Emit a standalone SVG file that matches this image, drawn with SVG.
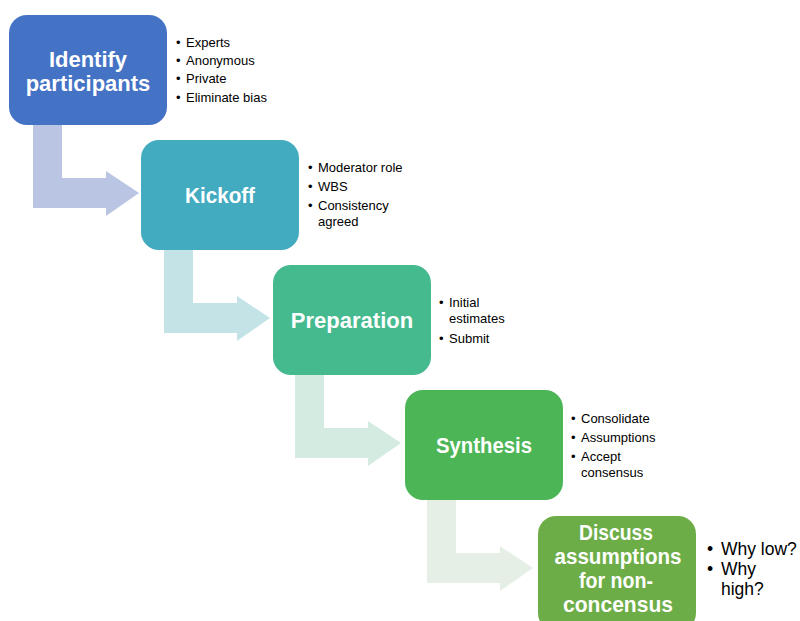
<svg xmlns="http://www.w3.org/2000/svg" width="800" height="621" viewBox="0 0 800 621">
<style>
.title{font-family:"Liberation Sans",Arial,sans-serif;font-weight:bold;font-size:22px;fill:#ffffff;text-anchor:middle}
.b{font-family:"Liberation Sans",Arial,sans-serif;font-size:13px;fill:#000000}
.bl{font-family:"Liberation Sans",Arial,sans-serif;font-size:17.5px;fill:#000000}
</style>
<rect width="800" height="621" fill="#ffffff"/>
<g id="connectors">
<path d="M33,125 H62 V178 H106 V171 L139,193 L106,216 V208 H33 Z" fill="#BAC4E3"/>
<path d="M164,250 H193 V303 H237 V296 L270,318 L237,341 V333 H164 Z" fill="#C4E3E6"/>
<path d="M295,375 H324 V428 H368 V421 L401,443 L368,466 V458 H295 Z" fill="#D4EBE1"/>
<path d="M427,500 H456 V553 H500 V546 L533,568 L500,591 V583 H427 Z" fill="#E6EFE6"/>
</g>
<g id="node1">
<rect x="9" y="15" width="158" height="110" rx="18" fill="#4472C4"/>
<text class="title" x="88" y="67">Identify</text>
<text class="title" x="88" y="91">participants</text>
<text class="b" x="176" y="47">•</text><text class="b" x="186" y="47">Experts</text>
<text class="b" x="176" y="65">•</text><text class="b" x="186" y="65">Anonymous</text>
<text class="b" x="176" y="83">•</text><text class="b" x="186" y="83">Private</text>
<text class="b" x="176" y="102">•</text><text class="b" x="186" y="102">Eliminate bias</text>
</g>
<g id="node2">
<rect x="141" y="140" width="158" height="110" rx="18" fill="#43ABBF"/>
<text class="title" x="220" y="203" textLength="70" lengthAdjust="spacingAndGlyphs">Kickoff</text>
<text class="b" x="308" y="172">•</text><text class="b" x="318" y="172">Moderator role</text>
<text class="b" x="308" y="191">•</text><text class="b" x="318" y="191">WBS</text>
<text class="b" x="308" y="210">•</text><text class="b" x="318" y="210">Consistency</text>
<text class="b" x="318" y="226">agreed</text>
</g>
<g id="node3">
<rect x="273" y="265" width="158" height="110" rx="18" fill="#44BA8E"/>
<text class="title" x="352" y="328">Preparation</text>
<text class="b" x="439" y="307">•</text><text class="b" x="449" y="307">Initial</text>
<text class="b" x="449" y="323">estimates</text>
<text class="b" x="439" y="343">•</text><text class="b" x="449" y="343">Submit</text>
</g>
<g id="node4">
<rect x="405" y="390" width="158" height="110" rx="18" fill="#4CB556"/>
<text class="title" x="484" y="453" textLength="96" lengthAdjust="spacingAndGlyphs">Synthesis</text>
<text class="b" x="571" y="423">•</text><text class="b" x="581" y="423">Consolidate</text>
<text class="b" x="571" y="442">•</text><text class="b" x="581" y="442">Assumptions</text>
<text class="b" x="571" y="461">•</text><text class="b" x="581" y="461">Accept</text>
<text class="b" x="581" y="477">consensus</text>
</g>
<g id="node5">
<rect x="538" y="516" width="158" height="115" rx="18" fill="#6DAD47"/>
<text class="title" x="616" y="540" textLength="74" lengthAdjust="spacingAndGlyphs">Discuss</text>
<text class="title" x="618" y="564" textLength="127" lengthAdjust="spacingAndGlyphs">assumptions</text>
<text class="title" x="616" y="588" textLength="74" lengthAdjust="spacingAndGlyphs">for non-</text>
<text class="title" x="618" y="612" textLength="110" lengthAdjust="spacingAndGlyphs">concensus</text>
<text class="bl" x="707" y="555">•</text><text class="bl" x="721" y="555">Why low?</text>
<text class="bl" x="707" y="575">•</text><text class="bl" x="721" y="575">Why</text>
<text class="bl" x="721" y="595">high?</text>
</g>
</svg>
